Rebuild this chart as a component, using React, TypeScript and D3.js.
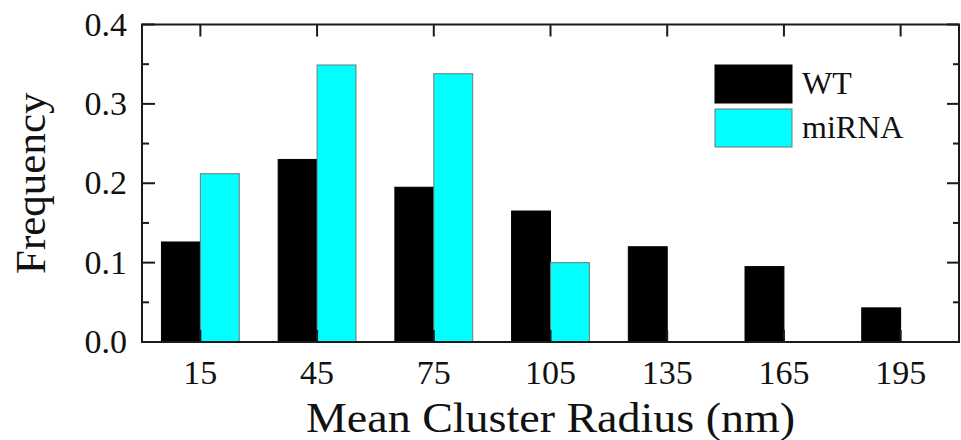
import React from "react";
import * as d3 from "d3";

const categories = [15, 45, 75, 105, 135, 165, 195];
const wtValues = [0.126, 0.230, 0.195, 0.165, 0.120, 0.095, 0.043];
const mirnaValues = [0.212, 0.349, 0.338, 0.100, 0, 0, 0];
const yTicks = [0, 0.1, 0.2, 0.3, 0.4];
const yMinorTicks = [0.05, 0.15, 0.25, 0.35];
const seriesNames = ["WT", "miRNA"];
const seriesColors = ["#000000", "#00FFFF"];

const W = 961;
const H = 440;
const left = 142;
const right = 959;
const top = 24.5;
const bottom = 342;
const font = "'Liberation Serif', 'Times New Roman', serif";
const axisColor = "#1a1a1a";

export default function App() {
  const x = d3.scaleLinear().domain([0, 210]).range([left, right]);
  const y = d3.scaleLinear().domain([0, 0.4]).range([bottom, top]);
  const halfGroup = 10;

  const series = [wtValues, mirnaValues];

  return (
    <div style={{ position: "absolute", left: 0, top: 0 }}>
      <svg width={W} height={H} style={{ display: "block", background: "#fff" }}>
        <rect x={0} y={0} width={W} height={H} fill="#fff" />
        {/* bars */}
        {series.map((vals, si) =>
          vals.map((v, i) => {
            if (v <= 0) return null;
            const c = categories[i];
            const x0 = x(c - halfGroup + si * halfGroup);
            const x1 = x(c + si * halfGroup);
            return (
              <rect
                key={`${si}-${i}`}
                x={x0}
                y={y(v)}
                width={x1 - x0}
                height={y(0) - y(v)}
                fill={seriesColors[si]}
                stroke={si === 0 ? "#000" : "#777"}
                strokeWidth={1}
              />
            );
          })
        )}
        {/* frame */}
        <rect
          x={left}
          y={top}
          width={right - left}
          height={bottom - top}
          fill="none"
          stroke={axisColor}
          strokeWidth={2}
        />
        {/* x ticks bottom and top */}
        {categories.map((c) => (
          <g key={`xt${c}`}>
            <line x1={x(c)} x2={x(c)} y1={bottom} y2={bottom - 12} stroke={axisColor} strokeWidth={2} />
            <line x1={x(c)} x2={x(c)} y1={top} y2={top + 12} stroke={axisColor} strokeWidth={2} />
            <text
              x={x(c)}
              y={384}
              textAnchor="middle"
              fontFamily={font}
              fontSize={34}
              fill="#111"
            >
              {c}
            </text>
          </g>
        ))}
        {/* y ticks */}
        {yTicks.map((t) => (
          <g key={`yt${t}`}>
            <line x1={left} x2={left + 13} y1={y(t)} y2={y(t)} stroke={axisColor} strokeWidth={2} />
            <line x1={right} x2={right - 12} y1={y(t)} y2={y(t)} stroke={axisColor} strokeWidth={2} />
            <text
              x={127}
              y={y(t) + 11}
              textAnchor="end"
              fontFamily={font}
              fontSize={34}
              fill="#111"
            >
              {t.toFixed(1)}
            </text>
          </g>
        ))}
        {yMinorTicks.map((t) => (
          <g key={`ym${t}`}>
            <line x1={left} x2={left + 7} y1={y(t)} y2={y(t)} stroke={axisColor} strokeWidth={2} />
            <line x1={right} x2={right - 6} y1={y(t)} y2={y(t)} stroke={axisColor} strokeWidth={2} />
          </g>
        ))}
        {/* axis titles */}
        <text
          x={306}
          y={432}
          textLength={489}
          lengthAdjust="spacingAndGlyphs"
          fontFamily={font}
          fontSize={43}
          fill="#111"
        >
          Mean Cluster Radius (nm)
        </text>
        <text
          transform={`translate(45, ${(top + bottom) / 2}) rotate(-90)`}
          textAnchor="middle"
          fontFamily={font}
          fontSize={43}
          fill="#111"
        >
          Frequency
        </text>
        {/* legend */}
        {seriesNames.map((name, i) => (
          <g key={name}>
            <rect
              x={715}
              y={65 + i * 44}
              width={77}
              height={38}
              fill={seriesColors[i]}
              stroke={i === 0 ? "#000" : "#777"}
              strokeWidth={1}
            />
            <text
              x={802}
              y={94 + i * 44}
              fontFamily={font}
              fontSize={32}
              fill="#111"
            >
              {name}
            </text>
          </g>
        ))}
      </svg>
    </div>
  );
}
